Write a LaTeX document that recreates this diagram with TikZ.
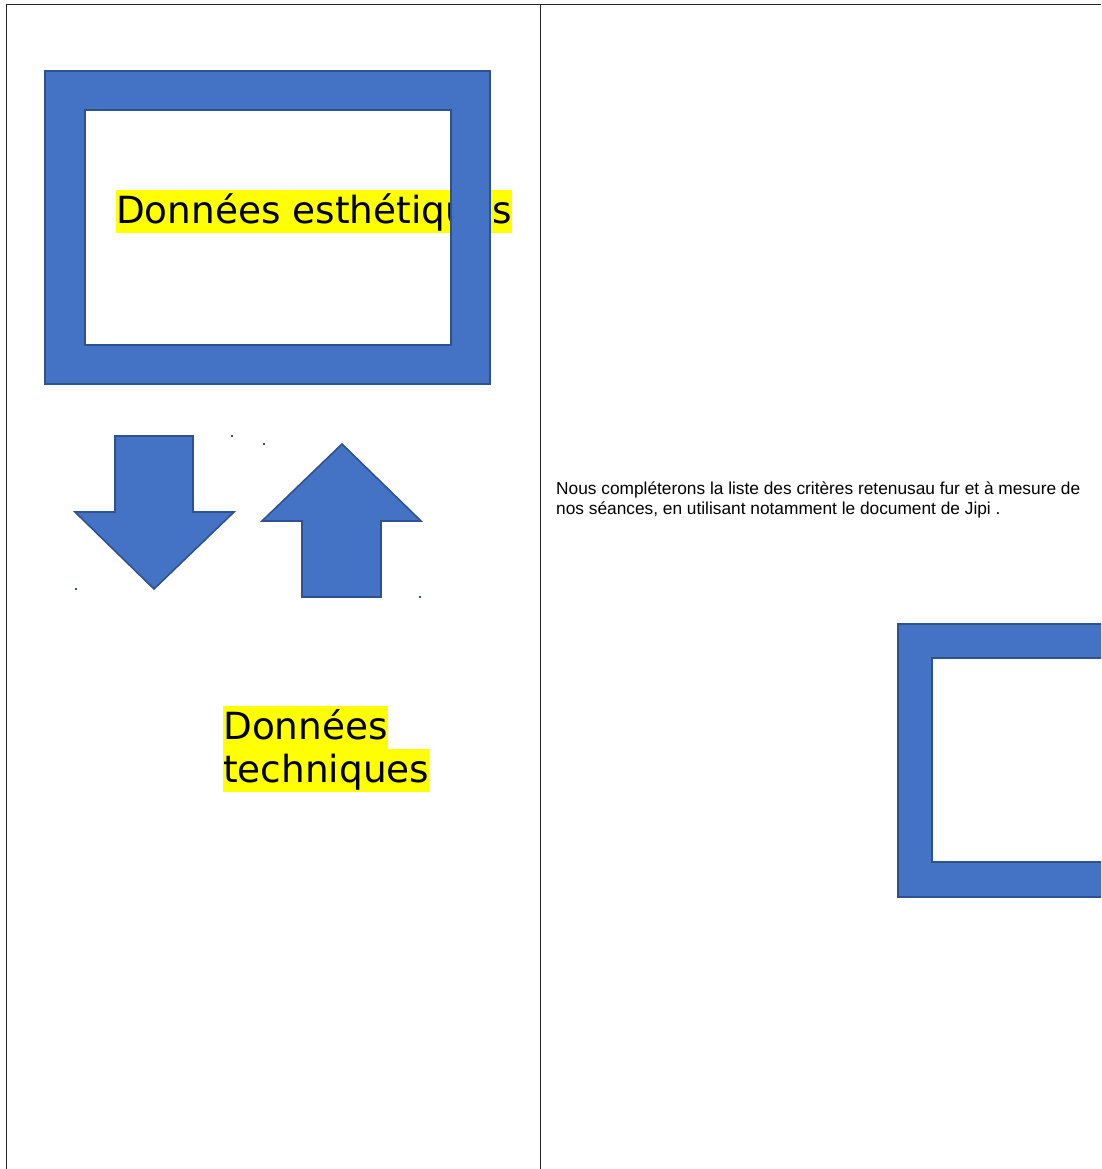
\documentclass[tikz,border=0pt]{standalone}
\usepackage{fontspec}
\setmainfont{DejaVu Sans}
\newfontfamily\notefont{Liberation Sans}
\usetikzlibrary{positioning}
\definecolor{shapeblue}{HTML}{4472C4}
\definecolor{shapeedge}{HTML}{2F528F}
\definecolor{marker}{HTML}{FFFF00}

\begin{document}
\begin{tikzpicture}[x=1pt,y=-1pt]
    \tikzstyle{every node}=[inner sep=0pt]
    \tikzstyle{blueshape}=[fill=shapeblue, draw=shapeedge, line width=1.6pt, even odd rule]
    \tikzstyle{highlight}=[fill=marker, font=\fontsize{37.4}{43}\selectfont, text height=33.6pt, text depth=9pt]
    \tikzstyle{note}=[font=\notefont\fontsize{17.3}{20}\selectfont]
    \useasboundingbox (0,0) rectangle (1101,1169);
    \clip (0,0) rectangle (1101,1169);
    % table lines
    \draw[line width=1pt, black!85] (6,1180) -- (6,5) -- (1110,5);
    \draw[line width=1pt, black!85] (540,5) -- (540,1180);
    % yellow labels, under the frame
    \node[highlight, anchor=north west] (esth) at (116,190) {Données esthétiques};
    \node[highlight, anchor=north west] (tech1) at (223,706) {Données};
    \node[highlight, anchor=north west] (tech2) at (tech1.south west) {techniques};
    % frames
    \draw[blueshape] (45,71) rectangle (490,384) (85,110) rectangle (451,345);
    \draw[blueshape] (898,624) rectangle (1190,897) (932,658) rectangle (1150,862);
    % arrows
    \draw[blueshape] (115,436) -- (193,436) -- (193,512) -- (234,512) -- (154,589) -- (75,512) -- (115,512) -- cycle;
    \draw[blueshape] (342,444) -- (421,521) -- (381,521) -- (381,597) -- (302,597) -- (302,521) -- (262,521) -- cycle;
    % handle marks
    \foreach \p in {(232,436),(264,444),(76,589),(420,597)}
      \fill[shapeedge] \p ++(-0.6,-1) rectangle ++(1.2,2);
    % note
    \node[note, anchor=base west] (note1) at (556,494) {Nous compléterons la liste des critères retenusau fur et à mesure de};
    \node[note, anchor=base west] (note2) at (556,514) {nos séances, en utilisant notamment le document de Jipi .};
\end{tikzpicture}
\end{document}
